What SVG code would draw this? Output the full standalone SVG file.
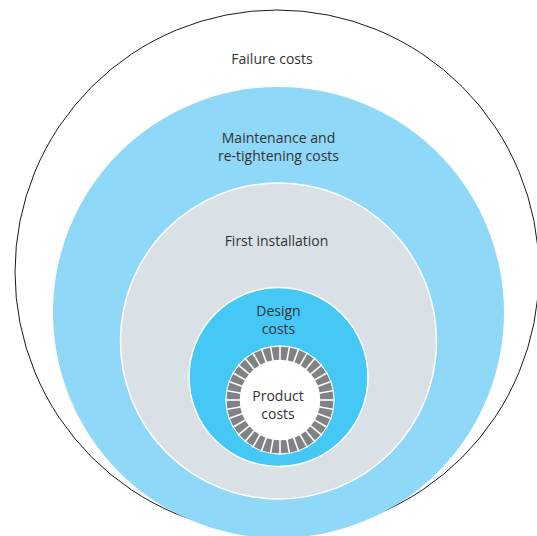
<svg xmlns="http://www.w3.org/2000/svg" xmlns:xlink="http://www.w3.org/1999/xlink" width="537" height="536" viewBox="0 0 537 536">
  <style>
    text { font-family: "Open Sans", "Noto Sans", "Liberation Sans", sans-serif; font-size: 14px; fill: #333333; text-anchor: middle; }
    .ring-line { stroke: #ffffff; stroke-width: 1.6; }
  </style>
  <defs>
    <line id="div" class="ring-line" x1="0" y1="-39" x2="0" y2="-55"/>
  </defs>
  <rect x="0" y="0" width="537" height="536" fill="#ffffff"/>
  <g id="failure">
    <circle cx="277" cy="272" r="262" fill="#ffffff" stroke="#1a1a1a" stroke-width="1"/>
    <text x="272" y="64">Failure costs</text>
  </g>
  <g id="maintenance">
    <circle cx="278.5" cy="312.5" r="225.5" fill="#8fd8f7"/>
    <text x="278.5" y="143">Maintenance and</text>
    <text x="278.5" y="161">re-tightening costs</text>
  </g>
  <g id="installation">
    <circle cx="278.5" cy="341" r="158" fill="#d9e1e6" stroke="#ffffff" stroke-width="1.5"/>
    <text x="276.5" y="246">First installation</text>
  </g>
  <g id="design">
    <circle cx="278.5" cy="377" r="89.5" fill="#45c8f5" stroke="#ffffff" stroke-width="1.5"/>
    <text x="278.5" y="316">Design</text>
    <text x="278.5" y="333.5">costs</text>
  </g>
  <g id="product">
    <circle cx="280" cy="400" r="54.5" fill="#ffffff"/>
    <circle cx="280" cy="400" r="46.8" fill="none" stroke="#808285" stroke-width="13"/>
    <g transform="translate(280 400)">
      <use xlink:href="#div" transform="rotate(0)"/>
      <use xlink:href="#div" transform="rotate(10)"/>
      <use xlink:href="#div" transform="rotate(20)"/>
      <use xlink:href="#div" transform="rotate(30)"/>
      <use xlink:href="#div" transform="rotate(40)"/>
      <use xlink:href="#div" transform="rotate(50)"/>
      <use xlink:href="#div" transform="rotate(60)"/>
      <use xlink:href="#div" transform="rotate(70)"/>
      <use xlink:href="#div" transform="rotate(80)"/>
      <use xlink:href="#div" transform="rotate(90)"/>
      <use xlink:href="#div" transform="rotate(100)"/>
      <use xlink:href="#div" transform="rotate(110)"/>
      <use xlink:href="#div" transform="rotate(120)"/>
      <use xlink:href="#div" transform="rotate(130)"/>
      <use xlink:href="#div" transform="rotate(140)"/>
      <use xlink:href="#div" transform="rotate(150)"/>
      <use xlink:href="#div" transform="rotate(160)"/>
      <use xlink:href="#div" transform="rotate(170)"/>
      <use xlink:href="#div" transform="rotate(180)"/>
      <use xlink:href="#div" transform="rotate(190)"/>
      <use xlink:href="#div" transform="rotate(200)"/>
      <use xlink:href="#div" transform="rotate(210)"/>
      <use xlink:href="#div" transform="rotate(220)"/>
      <use xlink:href="#div" transform="rotate(230)"/>
      <use xlink:href="#div" transform="rotate(240)"/>
      <use xlink:href="#div" transform="rotate(250)"/>
      <use xlink:href="#div" transform="rotate(260)"/>
      <use xlink:href="#div" transform="rotate(270)"/>
      <use xlink:href="#div" transform="rotate(280)"/>
      <use xlink:href="#div" transform="rotate(290)"/>
      <use xlink:href="#div" transform="rotate(300)"/>
      <use xlink:href="#div" transform="rotate(310)"/>
      <use xlink:href="#div" transform="rotate(320)"/>
      <use xlink:href="#div" transform="rotate(330)"/>
      <use xlink:href="#div" transform="rotate(340)"/>
      <use xlink:href="#div" transform="rotate(350)"/>
    </g>
    <text x="278" y="401">Product</text>
    <text x="278" y="419">costs</text>
  </g>
</svg>
